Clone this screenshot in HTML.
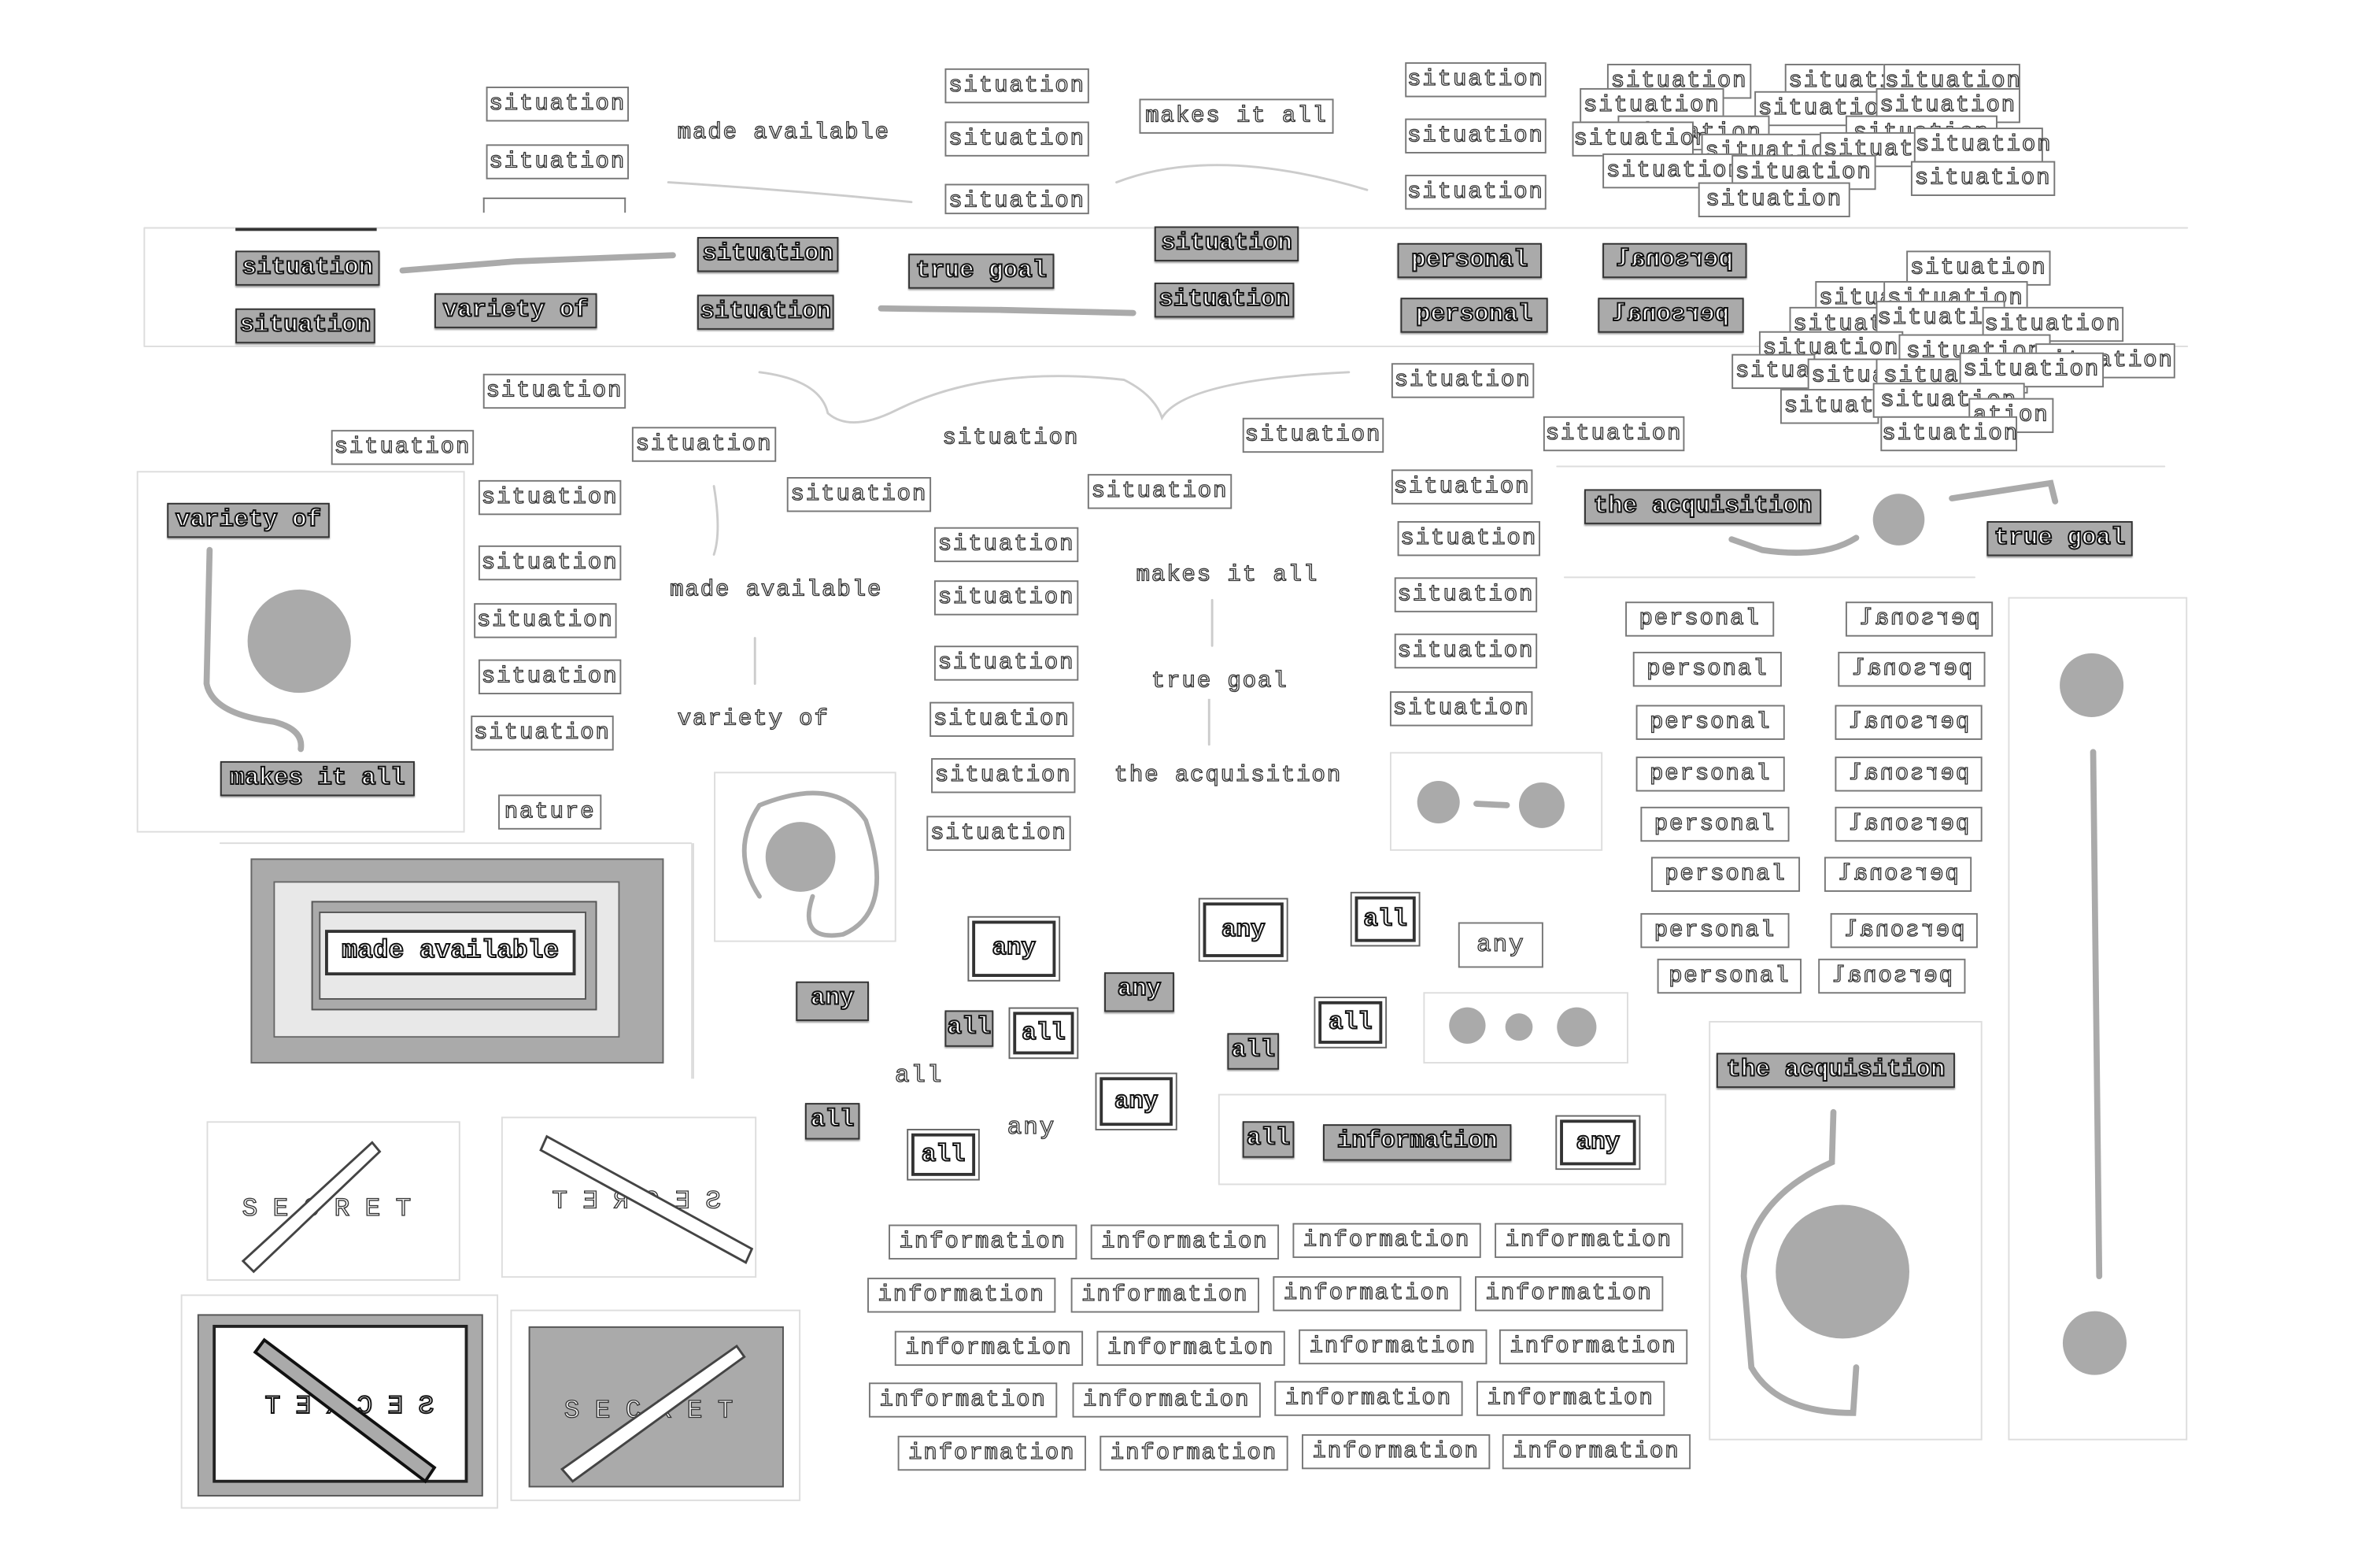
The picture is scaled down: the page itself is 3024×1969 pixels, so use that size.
<!DOCTYPE html>
<html><head><meta charset="utf-8"><style>
html,body{margin:0;padding:0;background:#fff;overflow:hidden}
#r{position:absolute;left:0;top:0;width:1570px;height:1020px;transform:scale(1.93,1.93);transform-origin:0 0}
#r div{position:absolute;box-sizing:border-box}
.b{border:1px solid #777;background:#fff;font:15px "Liberation Mono",monospace;color:#fff;-webkit-text-stroke:.7px #333;text-align:center;height:23px;line-height:21px;white-space:nowrap;letter-spacing:1px}
.n{border-color:transparent!important}
.g{border:1.5px solid #333;background:#aaa;font:bold 16px "Liberation Mono",monospace;color:#fff;-webkit-text-stroke:1px #111;text-align:center;height:23px;line-height:20px;white-space:nowrap;box-shadow:0 1px 1px #999}
.d{border:2px solid #333;background:#fff;font:bold 16px "Liberation Mono",monospace;color:#fff;-webkit-text-stroke:1px #111;text-align:center;outline:1px solid #666;outline-offset:2px;white-space:nowrap}
.m{transform:scaleX(-1)}
.f{border:1px solid #ddd}
.c{border-radius:50%;background:#aaa}
svg{position:absolute;left:0;top:0}
</style></head><body><div id="r">
<svg width="1550" height="1007" fill="none" stroke="#aaa" stroke-width="4" stroke-linecap="round">
<path d="M265 178 L340 172 L443 168"/>
<path d="M580 203 L660 204 L746 206"/>
<path d="M138 362 L136 450 Q140 470 180 475 Q200 480 198 493"/>
<path d="M1285 328 L1350 318 L1353 330 M1222 354 Q1200 368 1160 362 L1140 355"/>
<path d="M1378 495 L1382 840"/>
<path d="M1207 732 L1206 765 Q1150 790 1148 840 L1153 900 Q1170 930 1220 930 L1222 900"/>
<path d="M972 529 L992 530"/>
<path d="M500 530 Q550 510 570 540 Q590 600 555 615 Q525 620 535 590 M500 530 Q480 560 500 590" stroke-width="3"/>
<g stroke="#ccc" stroke-width="1.5"><path d="M440 120 Q520 125 600 133"/><path d="M735 120 Q800 95 900 125"/><path d="M500 245 Q540 250 545 272 Q560 285 590 270 Q650 240 740 250 Q760 260 765 275 Q780 250 888 245"/><path d="M470 320 Q475 350 470 365 M497 420 L497 450 M798 395 L798 425 M796 460 L796 490"/></g>
<g stroke="#ddd" stroke-width="1"><path d="M95 150 H1440 M95 228 H1440 M95 150 V228 M1025 307 H1425 M1030 380 H1300 M145 555 H455"/></g>
</svg>
<div class="f" style="left:90px;top:310px;width:216px;height:238px"></div>
<div class="f" style="left:915px;top:495px;width:140px;height:65px"></div>
<div class="f" style="left:470px;top:508px;width:120px;height:112px"></div>
<div class="f" style="left:937px;top:653px;width:135px;height:47px"></div>
<div class="f" style="left:802px;top:720px;width:295px;height:60px"></div>
<div class="f" style="left:1322px;top:393px;width:118px;height:555px"></div>
<div class="f" style="left:1125px;top:672px;width:180px;height:276px"></div>
<div class="f" style="left:136px;top:738px;width:167px;height:105px"></div>
<div class="f" style="left:330px;top:735px;width:168px;height:106px"></div>
<div class="f" style="left:119px;top:852px;width:209px;height:141px"></div>
<div class="f" style="left:336px;top:862px;width:191px;height:126px"></div>
<div class="f" style="left:455px;top:555px;width:1px;height:155px"></div>

<div class="c" style="left:163px;top:388px;width:68px;height:68px"></div>
<div class="c" style="left:1233px;top:325px;width:34px;height:34px"></div>
<div class="c" style="left:933px;top:514px;width:28px;height:28px"></div>
<div class="c" style="left:1000px;top:515px;width:30px;height:30px"></div>
<div class="c" style="left:504px;top:541px;width:46px;height:46px"></div>
<div class="c" style="left:1356px;top:430px;width:42px;height:42px"></div>
<div class="c" style="left:1358px;top:863px;width:42px;height:42px"></div>
<div class="c" style="left:1169px;top:793px;width:88px;height:88px"></div>
<div class="c" style="left:954px;top:663px;width:24px;height:24px"></div>
<div class="c" style="left:991px;top:667px;width:18px;height:18px"></div>
<div class="c" style="left:1025px;top:663px;width:26px;height:26px"></div>

<div class="b" style="left:320px;top:57px;width:94px">situation</div>
<div class="b" style="left:320px;top:95px;width:94px">situation</div>
<div class="b" style="left:318px;top:130px;width:94px;height:10px;border-bottom:0"></div>
<div class="b n" style="left:437px;top:76px;width:158px">made available</div>
<div class="b" style="left:622px;top:45px;width:95px">situation</div>
<div class="b" style="left:622px;top:80px;width:95px">situation</div>
<div class="b" style="left:622px;top:121px;width:95px;height:20px">situation</div>
<div class="b" style="left:750px;top:65px;width:128px">makes it all</div>
<div class="b" style="left:925px;top:41px;width:93px">situation</div>
<div class="b" style="left:925px;top:78px;width:93px">situation</div>
<div class="b" style="left:925px;top:115px;width:93px">situation</div>
<div class="b" style="left:1058px;top:42px;width:95px">situation</div>
<div class="b" style="left:1040px;top:58px;width:95px">situation</div>
<div class="b" style="left:1175px;top:42px;width:95px">situation</div>
<div class="b" style="left:1240px;top:42px;width:90px">situation</div>
<div class="b" style="left:1155px;top:60px;width:95px">situation</div>
<div class="b" style="left:1235px;top:58px;width:95px">situation</div>
<div class="b" style="left:1065px;top:76px;width:100px">situation</div>
<div class="b" style="left:1035px;top:80px;width:80px">situation</div>
<div class="b" style="left:1215px;top:76px;width:100px">situation</div>
<div class="b" style="left:1120px;top:88px;width:95px">situation</div>
<div class="b" style="left:1198px;top:87px;width:95px">situation</div>
<div class="b" style="left:1260px;top:84px;width:85px">situation</div>
<div class="b" style="left:1055px;top:101px;width:95px">situation</div>
<div class="b" style="left:1140px;top:102px;width:95px">situation</div>
<div class="b" style="left:1258px;top:106px;width:95px">situation</div>
<div class="b" style="left:1118px;top:120px;width:100px">situation</div>
<div style="left:155px;top:150px;width:93px;height:2px;background:#333"></div>
<div class="g" style="left:155px;top:165px;width:95px">situation</div>
<div class="g" style="left:155px;top:203px;width:92px">situation</div>
<div class="g" style="left:286px;top:193px;width:107px">variety of</div>
<div class="g" style="left:459px;top:156px;width:93px">situation</div>
<div class="g" style="left:459px;top:194px;width:90px">situation</div>
<div class="g" style="left:598px;top:167px;width:96px">true goal</div>
<div class="g" style="left:760px;top:149px;width:95px">situation</div>
<div class="g" style="left:760px;top:186px;width:92px">situation</div>
<div class="g" style="left:920px;top:160px;width:95px">personal</div>
<div class="g" style="left:922px;top:196px;width:97px">personal</div>
<div class="g m" style="left:1055px;top:160px;width:95px">personal</div>
<div class="g m" style="left:1052px;top:196px;width:96px">personal</div>
<div class="b" style="left:1255px;top:165px;width:95px">situation</div>
<div class="b" style="left:1195px;top:185px;width:95px">situation</div>
<div class="b" style="left:1240px;top:185px;width:95px">situation</div>
<div class="b" style="left:1178px;top:202px;width:95px">situation</div>
<div class="b" style="left:1235px;top:198px;width:85px">situation</div>
<div class="b" style="left:1305px;top:202px;width:93px">situation</div>
<div class="b" style="left:1158px;top:218px;width:95px">situation</div>
<div class="b" style="left:1250px;top:220px;width:100px">situation</div>
<div class="b" style="left:1340px;top:226px;width:92px">situation</div>
<div class="b" style="left:1140px;top:233px;width:55px">situa</div>
<div class="b" style="left:1190px;top:236px;width:95px">situation</div>
<div class="b" style="left:1235px;top:236px;width:100px">situation</div>
<div class="b" style="left:1290px;top:232px;width:95px">situation</div>
<div class="b" style="left:1172px;top:256px;width:65px">situat</div>
<div class="b" style="left:1233px;top:252px;width:100px">situation</div>
<div class="b" style="left:1296px;top:262px;width:56px">ation</div>
<div class="b" style="left:1238px;top:274px;width:90px">situation</div>
<div class="b" style="left:318px;top:246px;width:94px">situation</div>
<div class="b" style="left:218px;top:283px;width:94px">situation</div>
<div class="b" style="left:416px;top:281px;width:95px">situation</div>
<div class="b n" style="left:618px;top:277px;width:95px">situation</div>
<div class="b" style="left:818px;top:275px;width:93px">situation</div>
<div class="b" style="left:916px;top:239px;width:94px">situation</div>
<div class="b" style="left:1016px;top:274px;width:93px">situation</div>
<div class="b" style="left:518px;top:314px;width:95px">situation</div>
<div class="b" style="left:716px;top:312px;width:95px">situation</div>
<div class="b" style="left:916px;top:309px;width:93px">situation</div>
<div class="g" style="left:110px;top:331px;width:107px">variety of</div>
<div class="g" style="left:145px;top:501px;width:128px">makes it all</div>
<div class="b" style="left:315px;top:316px;width:94px">situation</div>
<div class="b" style="left:315px;top:359px;width:94px">situation</div>
<div class="b" style="left:312px;top:397px;width:94px">situation</div>
<div class="b" style="left:315px;top:434px;width:94px">situation</div>
<div class="b" style="left:310px;top:471px;width:94px">situation</div>
<div class="b" style="left:328px;top:523px;width:68px">nature</div>
<div class="b n" style="left:432px;top:377px;width:158px">made available</div>
<div class="b n" style="left:443px;top:462px;width:106px">variety of</div>
<div class="b" style="left:615px;top:347px;width:95px">situation</div>
<div class="b" style="left:615px;top:382px;width:95px">situation</div>
<div class="b" style="left:615px;top:425px;width:95px">situation</div>
<div class="b" style="left:612px;top:462px;width:95px">situation</div>
<div class="b" style="left:613px;top:499px;width:95px">situation</div>
<div class="b" style="left:610px;top:537px;width:95px">situation</div>
<div class="b n" style="left:743px;top:367px;width:130px">makes it all</div>
<div class="b n" style="left:755px;top:437px;width:96px">true goal</div>
<div class="b n" style="left:731px;top:499px;width:155px">the acquisition</div>
<div class="b" style="left:920px;top:343px;width:94px">situation</div>
<div class="b" style="left:918px;top:380px;width:94px">situation</div>
<div class="b" style="left:918px;top:417px;width:94px">situation</div>
<div class="b" style="left:915px;top:455px;width:94px">situation</div>
<div class="g" style="left:1043px;top:322px;width:156px">the acquisition</div>
<div class="g" style="left:1308px;top:343px;width:96px">true goal</div>
<div class="b" style="left:1070px;top:396px;width:98px">personal</div>
<div class="b" style="left:1075px;top:429px;width:98px">personal</div>
<div class="b" style="left:1077px;top:464px;width:98px">personal</div>
<div class="b" style="left:1077px;top:498px;width:98px">personal</div>
<div class="b" style="left:1080px;top:531px;width:98px">personal</div>
<div class="b" style="left:1087px;top:564px;width:98px">personal</div>
<div class="b" style="left:1080px;top:601px;width:98px">personal</div>
<div class="b" style="left:1091px;top:631px;width:95px">personal</div>
<div class="b m" style="left:1215px;top:396px;width:97px">personal</div>
<div class="b m" style="left:1210px;top:429px;width:97px">personal</div>
<div class="b m" style="left:1208px;top:464px;width:97px">personal</div>
<div class="b m" style="left:1208px;top:498px;width:97px">personal</div>
<div class="b m" style="left:1208px;top:531px;width:97px">personal</div>
<div class="b m" style="left:1201px;top:564px;width:97px">personal</div>
<div class="b m" style="left:1205px;top:601px;width:97px">personal</div>
<div class="b m" style="left:1197px;top:631px;width:97px">personal</div>
<div class="g" style="left:1130px;top:693px;width:157px">the acquisition</div>
<div style="left:165px;top:565px;width:272px;height:135px;background:#aaa;border:1px solid #666"></div>
<div style="left:180px;top:580px;width:228px;height:103px;background:#e8e8e8;border:1px solid #666"></div>
<div style="left:205px;top:593px;width:188px;height:72px;background:#aaa;border:1px solid #555"></div>
<div style="left:210px;top:600px;width:176px;height:58px;background:#e8e8e8;border:1px solid #555"></div>
<div class="d" style="left:214px;top:612px;width:165px;height:30px;line-height:25px;outline:none;font-size:17px">made available</div>
<div class="d" style="left:640px;top:606px;width:55px;height:37px;line-height:33px">any</div>
<div class="d" style="left:792px;top:594px;width:53px;height:36px;line-height:32px">any</div>
<div class="d" style="left:892px;top:590px;width:40px;height:30px;line-height:26px">all</div>
<div class="b" style="left:960px;top:607px;width:56px;height:30px;line-height:28px;font-size:16px">any</div>
<div class="g" style="left:524px;top:646px;width:48px;height:26px">any</div>
<div class="g" style="left:727px;top:640px;width:46px;height:26px">any</div>
<div class="g" style="left:622px;top:665px;width:32px;height:24px">all</div>
<div class="d" style="left:667px;top:666px;width:40px;height:28px;line-height:24px">all</div>
<div class="g" style="left:808px;top:680px;width:34px;height:24px">all</div>
<div class="d" style="left:868px;top:659px;width:42px;height:28px;line-height:24px">all</div>
<div class="b n" style="left:588px;top:697px;width:34px;font-size:16px">all</div>
<div class="b n" style="left:658px;top:731px;width:42px;font-size:16px">any</div>
<div class="d" style="left:724px;top:709px;width:48px;height:32px;line-height:28px">any</div>
<div class="g" style="left:530px;top:726px;width:36px;height:24px">all</div>
<div class="d" style="left:600px;top:746px;width:42px;height:28px;line-height:24px">all</div>
<div class="g" style="left:818px;top:738px;width:34px;height:24px">all</div>
<div class="g" style="left:871px;top:740px;width:124px;height:24px">information</div>
<div class="d" style="left:1027px;top:737px;width:50px;height:30px;line-height:26px">any</div>
<div class="b" style="left:585px;top:806px;width:124px">information</div>
<div class="b" style="left:718px;top:806px;width:124px">information</div>
<div class="b" style="left:851px;top:805px;width:124px">information</div>
<div class="b" style="left:984px;top:805px;width:124px">information</div>
<div class="b" style="left:571px;top:841px;width:124px">information</div>
<div class="b" style="left:705px;top:841px;width:124px">information</div>
<div class="b" style="left:838px;top:840px;width:124px">information</div>
<div class="b" style="left:971px;top:840px;width:124px">information</div>
<div class="b" style="left:589px;top:876px;width:124px">information</div>
<div class="b" style="left:722px;top:876px;width:124px">information</div>
<div class="b" style="left:855px;top:875px;width:124px">information</div>
<div class="b" style="left:987px;top:875px;width:124px">information</div>
<div class="b" style="left:572px;top:910px;width:124px">information</div>
<div class="b" style="left:706px;top:910px;width:124px">information</div>
<div class="b" style="left:839px;top:909px;width:124px">information</div>
<div class="b" style="left:972px;top:909px;width:124px">information</div>
<div class="b" style="left:591px;top:945px;width:124px">information</div>
<div class="b" style="left:724px;top:945px;width:124px">information</div>
<div class="b" style="left:857px;top:944px;width:124px">information</div>
<div class="b" style="left:989px;top:944px;width:124px">information</div>
<div style="left:130px;top:865px;width:188px;height:120px;background:#aaa;border:1px solid #555"></div>
<div style="left:140px;top:872px;width:168px;height:104px;background:#fff;border:2px solid #222"></div>
<div style="left:348px;top:873px;width:168px;height:106px;background:#aaa;border:1px solid #555"></div>
<div class="b n" style="left:140px;top:785px;width:160px;background:none;letter-spacing:10px;font-size:17px;height:24px">SECRET</div>
<div class="b n m" style="left:334px;top:780px;width:160px;background:none;letter-spacing:10px;font-size:17px;height:24px">SECRET</div>
<div class="b n m" style="left:145px;top:915px;width:160px;background:none;letter-spacing:10px;font-size:17px;height:24px;-webkit-text-stroke:1px #111">SECRET</div>
<div class="b n" style="left:352px;top:918px;width:160px;background:none;letter-spacing:10px;font-size:17px;height:24px">SECRET</div>
<svg width="1550" height="1007" fill="#fff" stroke="#444" stroke-width="1.5">
<path d="M160 830 L245 752 L250 758 L167 837 Z"/>
<path d="M360 748 L495 822 L491 831 L356 757 Z"/>
<path d="M168 890 L280 975 L286 966 L174 882 Z" fill="#aaa" stroke="#111" stroke-width="2"/>
<path d="M370 967 L485 886 L490 893 L377 975 Z"/>
</svg>
</div></body></html>
